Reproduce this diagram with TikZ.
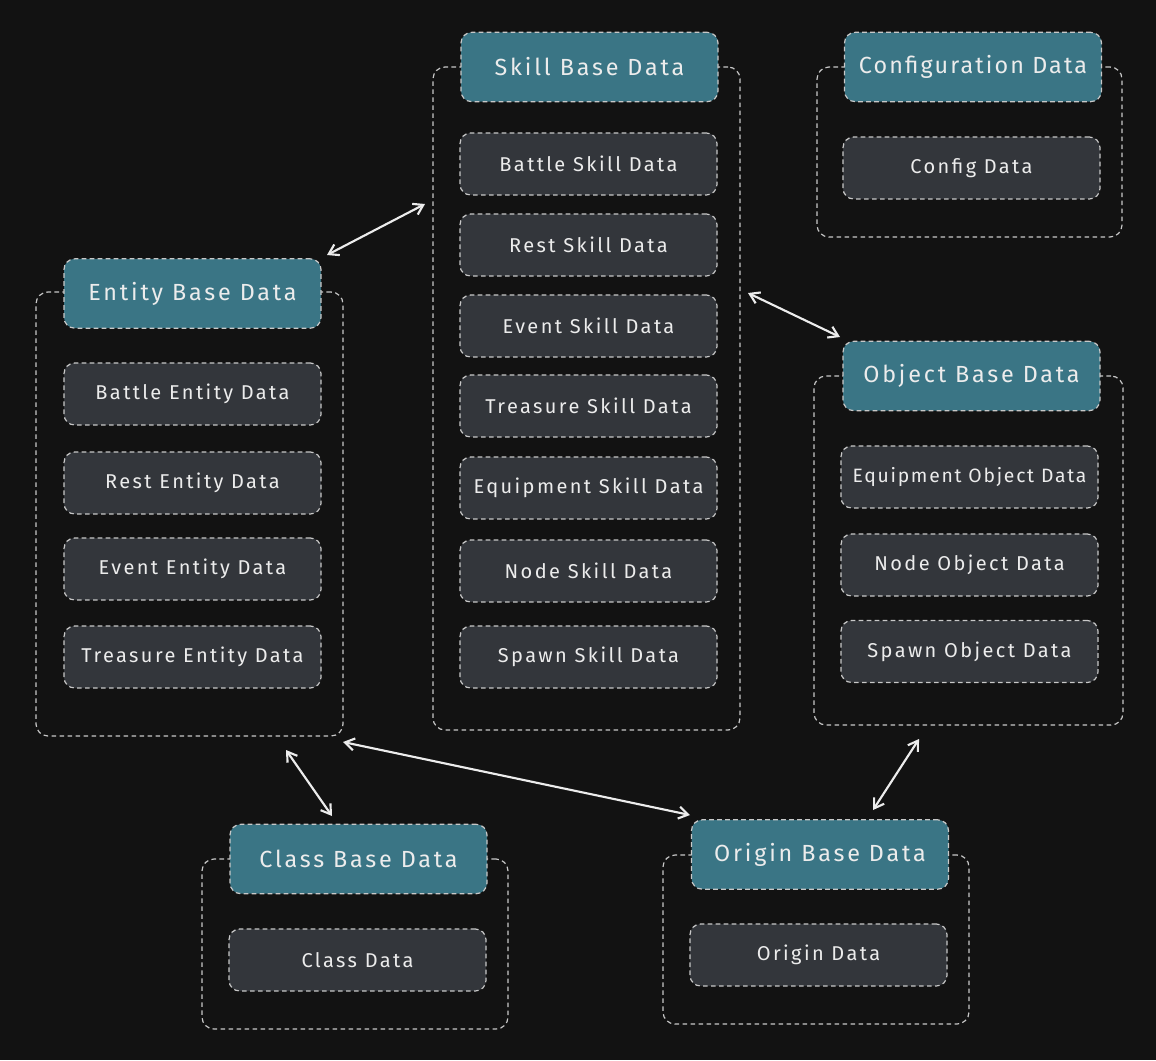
\documentclass[tikz,border=0pt]{standalone}
\usepackage{fontspec}
\setmainfont{Fira Sans}
\newfontfamily\handfont[LetterSpace=12]{Fira Sans}
\newfontfamily\handfontn[LetterSpace=9]{Fira Sans}
\usetikzlibrary{arrows.meta}
\definecolor{bgc}{HTML}{121212}
\definecolor{headc}{HTML}{3A7585}
\definecolor{itemc}{HTML}{33363B}
\definecolor{linec}{HTML}{C8C8C8}
\definecolor{txtc}{HTML}{ECECEC}
\tikzset{
  px/.style={x=0.75pt,y=-0.75pt},
  groupbox/.style={draw=linec, line width=0.9pt, dash pattern=on 3.5pt off 2.5pt, rounded corners=9pt, inner sep=0pt},
  headbox/.style={draw=linec, fill=headc, line width=0.9pt, dash pattern=on 3.5pt off 2.5pt, rounded corners=8pt, minimum width=192.75pt, minimum height=52pt, inner sep=0pt, text=txtc, font=\handfont\fontsize{17.5}{20}\selectfont},
  itembox/.style={draw=linec, fill=itemc, line width=0.9pt, dash pattern=on 3.5pt off 2.5pt, rounded corners=8pt, minimum width=192.75pt, minimum height=46.5pt, inner sep=0pt, text=txtc, font=\handfont\fontsize{15}{18}\selectfont},
  link/.style={draw=txtc, line width=1.6pt, {Straight Barb[length=7pt,width=9pt]}-{Straight Barb[length=7pt,width=9pt]}}
}
\begin{document}
\begin{tikzpicture}[px]
\fill[bgc] (0,0) rectangle (1156,1060);
\useasboundingbox (0,0) rectangle (1156,1060);

% Entity group
\node[groupbox, minimum width=230.25pt, minimum height=333pt] (entityG) at (189.5,514) {};
\node[headbox] (entityH) at (192.5,293.5) {Entity Base Data};
\node[itembox] (battleE) at (192.5,394) {Battle Entity Data};
\node[itembox] (restE) at (192.5,483) {Rest Entity Data};
\node[itembox] (eventE) at (192.5,569) {Event Entity Data};
\node[itembox] (treasureE) at (192.5,657) {Treasure Entity Data};

% Skill group
\node[groupbox, minimum width=230.25pt, minimum height=497.25pt] (skillG) at (586.5,398.5) {};
\node[headbox] (skillH) at (589.5,67) {Skill Base Data};
\node[itembox] (battleS) at (588.5,164) {Battle Skill Data};
\node[itembox] (restS) at (588.5,245) {Rest Skill Data};
\node[itembox] (eventS) at (588.5,326) {Event Skill Data};
\node[itembox] (treasureS) at (588.5,406) {Treasure Skill Data};
\node[itembox] (equipS) at (588.5,488) {Equipment Skill Data};
\node[itembox] (nodeS) at (588.5,571) {Node Skill Data};
\node[itembox] (spawnS) at (588.5,657) {Spawn Skill Data};

% Config group
\node[groupbox, minimum width=228.75pt, minimum height=127.5pt] (configG) at (969.5,152) {};
\node[headbox, font=\handfontn\fontsize{17.5}{20}\selectfont] (configH) at (973,67) {Configuration Data};
\node[itembox] (configD) at (971.5,168) {Config Data};

% Object group
\node[groupbox, minimum width=231.75pt, minimum height=261.75pt] (objectG) at (968.5,550.5) {};
\node[headbox] (objectH) at (971.5,376) {Object Base Data};
\node[itembox, font=\handfontn\fontsize{14.5}{18}\selectfont] (equipO) at (969.5,477) {Equipment Object Data};
\node[itembox] (nodeO) at (969.5,565) {Node Object Data};
\node[itembox] (spawnO) at (969.5,651.5) {Spawn Object Data};

% Class group
\node[groupbox, minimum width=229.5pt, minimum height=127.5pt] (classG) at (355,944) {};
\node[headbox] (classH) at (358.5,859) {Class Base Data};
\node[itembox] (classD) at (357.5,960) {Class Data};

% Origin group
\node[groupbox, minimum width=229.5pt, minimum height=126.75pt] (originG) at (816,939.5) {};
\node[headbox] (originH) at (820,854.5) {Origin Base Data};
\node[itembox] (originD) at (818.5,955) {Origin Data};

% connector ends
\coordinate (e1) at (327,255);
\coordinate (s1) at (425,204);
\coordinate (s2) at (748,293);
\coordinate (o2) at (840,337);
\coordinate (e3) at (286,750);
\coordinate (c3) at (332,816);
\coordinate (e4) at (343,742);
\coordinate (r4) at (690,815);
\coordinate (o5) at (919,739);
\coordinate (r5) at (873,810);

\draw[link] (e1) -- (s1);
\draw[link] (s2) -- (o2);
\draw[link] (e3) -- (c3);
\draw[link] (e4) -- (r4);
\draw[link] (o5) -- (r5);
\end{tikzpicture}
\end{document}
